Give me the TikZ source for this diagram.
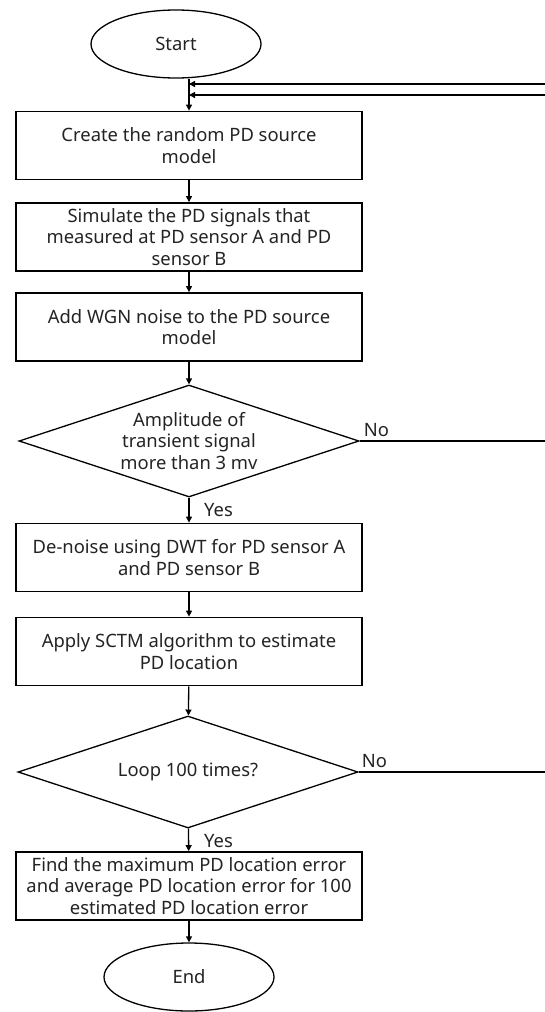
\documentclass[tikz,border=0pt]{standalone}
\usepackage{fontspec}
\setmainfont{Noto Sans}
\usetikzlibrary{shapes.geometric,arrows.meta}
\definecolor{inkgray}{RGB}{35,35,35}
\tikzset{
  procbox/.style={draw, rectangle, line width=1.8pt, minimum width=346pt, minimum height=68pt,
    align=center, inner sep=2pt, text=inkgray, font=\fontsize{18.4}{21.7}\selectfont},
  termnode/.style={draw, ellipse, line width=1.3pt, minimum width=170pt, minimum height=68pt,
    inner sep=0pt, text=inkgray, font=\fontsize{18.4}{21.7}\selectfont},
  decnode/.style={draw, diamond, line width=1.3pt, minimum width=340pt, minimum height=112pt,
    aspect=3, inner sep=0pt, align=center, text=inkgray, font=\fontsize{18.4}{21.7}\selectfont},
  lbl/.style={text=inkgray, inner sep=0pt, font=\fontsize{18.4}{21.7}\selectfont},
  flow/.style={-{Triangle[length=6pt,width=6pt]}, line width=1.3pt},
  plain/.style={line width=1.3pt},
}
\begin{document}
\begin{tikzpicture}[x=1pt,y=-1pt]
\useasboundingbox (0,0) rectangle (545,1012);
\node[termnode] (start) at (176,44) {Start};
\node[procbox] (create) at (189,145.5) {Create the random PD source\\model};
\node[procbox] (sim) at (189,237) {Simulate the PD signals that\\measured at PD sensor A and PD\\sensor B};
\node[procbox] (noise) at (189,327) {Add WGN noise to the PD source\\model};
\node[decnode] (amp) at (189,441) {Amplitude of\\transient signal\\more than 3 mv};
\node[procbox] (dwt) at (189,557.5) {De-noise using DWT for PD sensor A\\and PD sensor B};
\node[procbox] (sctm) at (189,651.5) {Apply SCTM algorithm to estimate\\PD location};
\node[decnode] (loop) at (188,772) {Loop 100 times?};
\node[procbox] (maxerr) at (189,886) {Find the maximum PD location error\\and average PD location error for 100\\estimated PD location error};
\node[termnode] (end) at (189,977) {End};
% feedback ends at the right edge
\coordinate (backA) at (545,84);
\coordinate (backB) at (545,95);
\draw[flow] (start.south -| create.north) -- (create.north);
\draw[flow] (backA) -- (backA -| create.north);
\draw[flow] (backB) -- (backB -| create.north);
\draw[flow] (create) -- (sim);
\draw[flow] (sim) -- (noise);
\draw[flow] (noise) -- (amp);
\draw[flow] (amp) -- (dwt);
\draw[flow] (dwt) -- (sctm);
\draw[flow] (sctm) -- (loop);
\draw[flow] (loop) -- (maxerr);
\draw[flow] (maxerr) -- (end);
\draw[plain] (amp.east) -- (amp.east -| backA);
\draw[plain] (loop.east) -- (loop.east -| backA);
\node[lbl, anchor=south west] (ampno) at ([xshift=4pt,yshift=4pt]amp.east) {No};
\node[lbl, anchor=south west] (loopno) at ([xshift=3pt,yshift=4pt]loop.east) {No};
\node[lbl, anchor=west] (ampyes) at ([xshift=15pt,yshift=-12pt]amp.south) {Yes};
\node[lbl, anchor=west] (loopyes) at ([xshift=16pt,yshift=-12pt]loop.south) {Yes};
\end{tikzpicture}
\end{document}
